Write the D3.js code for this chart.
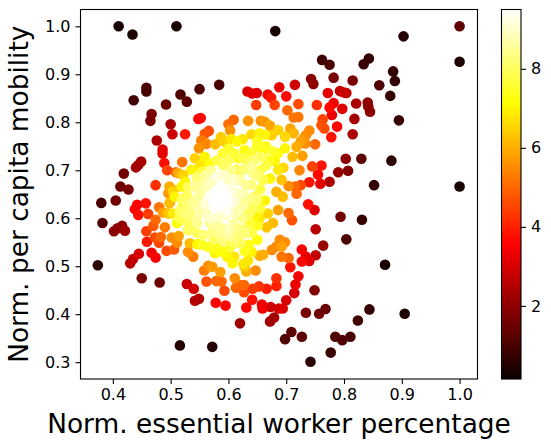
<!DOCTYPE html>
<html>
<head>
<meta charset="utf-8">
<script src="https://cdn.jsdelivr.net/npm/d3@7"></script>
<style>
    body { margin: 0; background: white; }
    svg { display: block; font-family: "DejaVu Sans", sans-serif; }
</style>
</head>
<body>
<div id="chart"></div>
<script>
// normalized essential worker percentage
var essential = [
    .410,.434,.510,.681,.584,.550,.458,.458,.436,.517,
    .528,.492,.467,.465,.500,.503,.525,.476,.486,.486,
    .489,.449,.444,.440,.419,.413,.427,.474,.494,.520,
    .509,.548,.552,.566,.559,.553,.562,.549,.577,.587,
    .592,.600,.609,.603,.634,.633,.641,.649,.668,.674,
    .680,.648,.688,.656,.663,.672,.903,1.0,1.0,.762,
    .775,.843,.834,.885,.888,.880,.861,.815,.782,.743,
    .747,.715,.700,.772,.793,.800,.804,.841,.842,.845,
    .821,.797,.782,.775,.753,.779,.818,.895,.788,.763,
    .761,.766,.778,.815,.721,.702,.713,.721,.707,.713,
    .740,.734,.731,.725,.733,.750,.718,.698,.711,.728,
    .695,.723,.745,.761,.755,.740,.759,.775,.790,.807,
    .803,.830,.882,.852,1.0,.692,.704,.715,.725,.686,
    .380,.405,.382,.416,.402,.421,.408,.442,.438,.444,
    .457,.461,.474,.470,.458,.490,.459,.473,.483,.480,
    .502,.514,.511,.493,.506,.467,.474,.445,.435,.430,
    .374,.450,.481,.528,.540,.542,.549,.562,.578,.595,
    .631,.620,.516,.572,.641,.658,.659,.673,.687,.679,
    .672,.593,.579,.588,.586,.572,.565,.558,.611,.613,
    .620,.627,.627,.642,.653,.666,.683,.683,.647,.631,
    .626,.634,.628,.654,.660,.607,.598,.610,.577,.578,
    .628,.582,.603,.533,.546,.530,.539,.663,.654,.668,
    .677,.666,.675,.683,.689,.637,.643,.646,.634,.511,
    .504,.498,.480,.487,.496,.496,.504,.516,.528,.536,
    .546,.555,.571,.585,.600,.605,.617,.628,.794,.831,
    .804,.871,.905,.844,.824,.811,.797,.785,.777,.742,
    .727,.709,.698,.768,.757,.734,.749,.700,.694,.714,
    .716,.721,.707,.727,.740,.751,.734,.727,.764,.751,
    .738,.749,.704,.710,.718,.694,.698,.692,.704,.692,
    .683,.672,.663,.654,.675,.686,.698,.678,.649,.657,
    .646,.655,.640,.542,.551,.559,.568,.554,.536,.522,
    .513,.525,.519,.505,.498,.507,.499,.528,.542,.580,
    .591,.614,.617,.628,.634,.643,.643,.631,.608,.579,
    .562,.551,.539,.614,.637,.626,.585,.597,.574,.605,
    .568,.591,.578,.536,.545,.551,.577,.597,.562,.585,
    .608,.568,.591,.617,.556,.628,.620,.637,.649,.623,
    .643,.686,
    .600,.610,.590,.600,.625,.640,.650,.665,.670,.680,
    .685,.665,.650,.625,.605,.570,.590,.560,.545,.530,
    .520,.520,.530,.545,.555,.570,.600,.620,.640,.655,
    .660,.650,.655,.625,.600,.610,.585,.560,.550,.525,
    .515,.530,.545,.575,.590,.600,.610,.640,.650,.650,
    .635,.640,.590,.565,.555,.570,.600,.615,.625,.580,
    .610,.660,.615,.625,.640,.605
];

// normalized per capita mobility
var mobility = [
    1.0,.983,1.0,.990,.878,.869,.872,.864,.846,.858,
    .843,.837,.817,.803,.796,.775,.775,.762,.743,.735,
    .715,.718,.711,.706,.693,.666,.660,.669,.700,.717,
    .696,.807,.809,.782,.776,.762,.755,.746,.754,.769,
    .760,.796,.805,.783,.803,.864,.860,.861,.858,.851,
    .836,.836,.873,.803,.801,.793,.979,1.0,.926,.930,
    .920,.933,.921,.906,.886,.855,.877,.887,.893,.890,
    .880,.878,.854,.861,.865,.862,.861,.841,.833,.822,
    .839,.828,.840,.831,.836,.815,.807,.804,.791,.806,
    .794,.787,.769,.775,.838,.825,.810,.811,.787,.777,
    .783,.773,.767,.760,.756,.754,.749,.746,.728,.730,
    .705,.700,.708,.710,.691,.675,.672,.676,.696,.699,
    .724,.724,.720,.669,.666,.680,.667,.666,.669,.701,
    .632,.637,.590,.584,.573,.574,.579,.628,.619,.607,
    .631,.609,.597,.584,.573,.581,.551,.560,.561,.549,
    .560,.563,.549,.532,.535,.528,.518,.526,.515,.506,
    .502,.475,.466,.463,.453,.428,.432,.468,.424,.418,
    .414,.381,.335,.332,.430,.420,.412,.415,.412,.393,
    .385,.449,.469,.468,.488,.499,.501,.491,.475,.455,
    .461,.461,.446,.453,.458,.453,.459,.475,.491,.489,
    .505,.512,.499,.522,.524,.506,.520,.520,.527,.537,
    .531,.548,.541,.548,.546,.530,.520,.637,.600,.610,
    .590,.581,.534,.541,.555,.592,.624,.645,.610,.590,
    .610,.631,.623,.612,.610,.652,.656,.614,.593,.579,
    .590,.564,.569,.569,.576,.551,.565,.576,.603,.597,
    .556,.503,.401,.410,.387,.353,.346,.353,.320,.301,
    .353,.363,.348,.411,.401,.403,.450,.429,.412,.444,
    .462,.479,.498,.510,.511,.523,.520,.535,.543,.577,
    .629,.617,.611,.596,.651,.645,.550,.541,.517,.520,
    .655,.683,.774,.777,.773,.784,.770,.739,.749,.728,
    .722,.700,.708,.725,.711,.728,.714,.697,.701,.690,
    .694,.676,.666,.659,.666,.645,.634,.648,.666,.721,
    .711,.701,.725,.742,.711,.722,.694,.669,.676,.687,
    .666,.652,.631,.652,.641,.628,.659,.638,.635,.662,
    .648,.648,.648,.610,.596,.624,.624,.617,.610,.603,
    .596,.590,.579,.579,.565,.569,.548,.610,.603,.631,
    .628,.617,
    .745,.735,.735,.720,.725,.735,.760,.750,.720,.720,
    .735,.710,.690,.700,.700,.700,.690,.690,.685,.665,
    .640,.625,.630,.640,.670,.675,.680,.680,.670,.660,
    .680,.640,.620,.650,.650,.635,.640,.630,.610,.610,
    .600,.575,.570,.555,.555,.565,.560,.570,.585,.555,
    .545,.530,.530,.540,.545,.600,.605,.615,.600,.585,
    .580,.740,.760,.765,.775,.765
];

// density colour value
var density = [
    .3,.4,.3,.3,1.0,1.1,1.0,1.0,.9,1.1,
    1.3,1.5,1.7,1.7,2.3,2.9,3.9,2.4,3.1,3.2,
    3.7,2.3,2.3,2.3,1.6,1.5,1.7,4.2,4.5,5.2,
    5.0,3.6,3.6,4.6,4.8,5.3,5.4,5.6,6.2,6.4,
    6.5,5.1,5.0,5.6,5.6,3.0,3.2,3.1,3.6,3.9,
    4.5,4.4,3.2,5.6,5.7,5.9,.5,1.3,.4,.9,
    1.0,.7,.8,.7,.7,.7,1.1,1.7,1.7,1.9,
    2.0,2.9,3.7,3.2,2.8,2.8,2.7,2.0,2.0,2.0,
    2.4,3.1,3.4,3.7,4.2,3.3,2.3,.8,3.5,4.5,
    4.7,4.6,3.8,2.4,4.6,5.0,5.2,5.2,5.9,6.1,
    5.5,5.5,5.6,5.8,5.5,5.0,6.0,7.0,6.2,5.8,
    6.6,5.4,4.5,3.8,3.6,3.8,3.2,2.4,2.1,1.8,
    2.0,1.3,.6,.7,.3,6.3,5.5,5.0,4.6,6.8,
    1.0,1.6,1.2,2.0,1.9,2.2,2.0,3.6,3.6,3.7,
    3.8,4.4,5.0,4.8,4.4,5.3,3.9,4.6,5.0,4.5,
    5.5,5.8,5.5,4.6,4.8,3.4,3.5,3.0,2.7,2.5,
    .6,1.7,1.5,2.8,3.0,2.5,2.5,4.7,3.5,3.6,
    3.6,2.2,.5,.5,3.8,3.3,3.3,2.9,2.9,2.3,
    2.3,4.6,5.0,5.0,5.8,5.7,5.5,5.3,5.5,5.0,
    5.0,5.0,4.6,4.4,4.3,4.0,4.0,4.2,5.5,6.0,
    6.8,6.8,6.4,6.0,6.0,7.0,7.0,6.8,7.0,7.3,
    7.4,7.5,7.5,6.2,7.0,5.5,5.3,7.0,6.8,6.5,
    6.2,6.3,5.5,5.5,5.5,7.6,8.0,8.0,8.0,7.2,
    6.8,6.2,5.2,5.8,6.3,5.7,6.5,8.0,8.0,8.0,
    8.5,8.0,8.3,8.5,8.8,8.0,8.0,8.0,1.6,.8,
    1.1,.3,.4,.7,.9,1.0,1.1,1.1,.8,.6,
    1.3,1.3,1.1,1.4,1.6,1.7,1.8,3.0,3.1,3.0,
    3.3,3.4,3.8,3.6,3.1,2.7,3.2,3.5,2.1,2.6,
    3.8,3.1,5.0,4.7,5.0,6.2,5.5,5.8,5.0,5.2,
    6.0,7.0,7.0,7.0,6.5,6.5,6.6,7.5,7.5,8.0,
    8.2,7.8,8.5,6.5,6.8,7.0,7.2,7.6,7.0,6.5,
    6.0,7.0,7.0,6.0,6.0,7.0,6.2,8.0,8.5,7.8,
    8.0,7.8,7.5,7.2,8.0,8.0,8.3,8.5,9.0,9.2,
    8.8,8.6,8.5,8.9,8.4,8.6,9.5,9.5,9.5,9.2,
    9.4,9.5,9.5,8.3,8.4,8.7,9.5,9.4,8.9,9.0,
    8.7,8.5,8.5,8.3,8.2,8.3,8.0,8.0,7.0,8.5,
    8.0,5.8,
    7.5,7.6,7.6,8.0,7.8,7.6,7.4,7.4,7.4,7.0,
    7.2,7.8,8.2,8.2,8.5,8.5,9.0,8.6,8.2,8.0,
    8.0,8.0,8.2,8.5,8.5,8.9,8.9,8.6,8.3,7.8,
    7.8,8.2,7.6,8.8,9.4,9.2,9.5,9.1,8.7,8.2,
    7.8,8.0,8.0,8.0,8.3,8.6,8.3,7.8,7.4,7.2,
    7.4,7.0,7.2,7.4,7.4,9.0,9.1,8.8,8.4,8.6,
    8.4,7.2,7.0,6.8,6.6,6.8
];

var xTicks = [0.4, 0.5, 0.6, 0.7, 0.8, 0.9, 1.0];
var yTicks = [0.3, 0.4, 0.5, 0.6, 0.7, 0.8, 0.9, 1.0];
var cbTicks = [2, 4, 6, 8];

var width = 551, height = 448;
var left = 80.5, right = 477.5, top_ = 9.5, bottom = 379;
var cbLeft = 501.5, cbRight = 521;

// matplotlib "hot" colormap
var hotStops = [0, 0.365, 0.746, 1];
var hotColors = ["#0b0000", "#ff0000", "#ffff00", "#ffffff"];

var zMin = 0.15, zMax = 9.5;

var x = d3.scaleLinear().domain([0.344, 1.031]).range([left, right]);
var y = d3.scaleLinear().domain([0.265, 1.035]).range([bottom, top_]);
var z = d3.scaleLinear().domain([zMin, zMax]).range([bottom, top_]);

var hot = d3.scaleLinear().domain(hotStops).range(hotColors);
var color = function(v) { return hot((v - zMin) / (zMax - zMin)); };

var svg = d3.select("#chart")
    .append("svg")
    .attr("width", width)
    .attr("height", height);

// points, lowest density first so the bright core ends up on top
var order = d3.range(essential.length).sort(function(a, b) {
    return density[a] - density[b];
});

svg.selectAll("circle")
    .data(order)
    .enter()
    .append("circle")
    .attr("cx", function(i) { return x(essential[i]); })
    .attr("cy", function(i) { return y(mobility[i]); })
    .attr("r", 5.3)
    .style("fill", function(i) { return color(density[i]); });

// axes box
svg.append("rect")
    .attr("x", left)
    .attr("y", top_)
    .attr("width", right - left)
    .attr("height", bottom - top_)
    .style("fill", "none")
    .style("stroke", "black")
    .style("stroke-width", 1.1);

function styleAxis(g) {
    g.select(".domain").remove();
    g.selectAll("line").style("stroke", "black").style("stroke-width", 1.1);
    g.selectAll("text").style("font-size", "16px").style("fill", "#000")
        .style("font-family", '"DejaVu Sans", sans-serif');
}

svg.append("g")
    .attr("transform", "translate(0," + bottom + ")")
    .call(d3.axisBottom(x).tickValues(xTicks).tickFormat(d3.format(".1f")).tickSize(5).tickPadding(5))
    .call(styleAxis);

svg.append("g")
    .attr("transform", "translate(" + left + ",0)")
    .call(d3.axisLeft(y).tickValues(yTicks).tickFormat(d3.format(".1f")).tickSize(5).tickPadding(5))
    .call(styleAxis);

svg.append("text")
    .attr("x", (left + right) / 2)
    .attr("y", 433)
    .attr("text-anchor", "middle")
    .style("font-size", "26.4px")
    .text("Norm. essential worker percentage");

svg.append("text")
    .attr("transform", "translate(28," + (top_ + bottom) / 2 + ") rotate(-90)")
    .attr("text-anchor", "middle")
    .style("font-size", "26.4px")
    .text("Norm. per capita mobility");

// colorbar
var grad = svg.append("defs")
    .append("linearGradient")
    .attr("id", "hotbar")
    .attr("x1", 0).attr("y1", 1)
    .attr("x2", 0).attr("y2", 0);

grad.selectAll("stop")
    .data(hotStops)
    .enter()
    .append("stop")
    .attr("offset", function(d) { return d; })
    .attr("stop-color", function(d, i) { return hotColors[i]; });

svg.append("rect")
    .attr("x", cbLeft)
    .attr("y", top_)
    .attr("width", cbRight - cbLeft)
    .attr("height", bottom - top_)
    .style("fill", "url(#hotbar)")
    .style("stroke", "black")
    .style("stroke-width", 1.1);

svg.append("g")
    .attr("transform", "translate(" + cbRight + ",0)")
    .call(d3.axisRight(z).tickValues(cbTicks).tickSize(5).tickPadding(5))
    .call(styleAxis);
</script>
</body>
</html>
